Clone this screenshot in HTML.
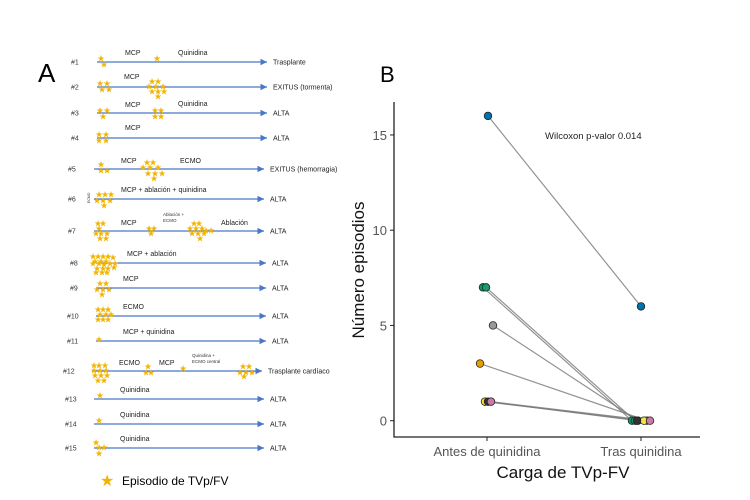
<!DOCTYPE html>
<html><head><meta charset="utf-8"><style>
html,body{margin:0;padding:0;background:#fff}
svg{display:block;font-family:"Liberation Sans",sans-serif}
</style></head><body>
<svg width="750" height="500" viewBox="0 0 750 500">
<defs><marker id="ah" markerWidth="6" markerHeight="6" refX="5" refY="3" orient="auto"><path d="M0,0.5 L5,3 L0,5.5 Z" fill="#4a78c8"/></marker></defs>
<text x="38" y="82" font-size="26">A</text>
<g id="timeline"></g>
<text x="100" y="486" font-size="16" fill="#f2b400">★</text>
<text x="122" y="485" font-size="12">Episodio de TVp/FV</text>
<text x="380" y="82" font-size="22">B</text>
<g id="chart"></g>
</svg>
<script>
const NS="http://www.w3.org/2000/svg";
function mk(tag,attrs,parent,txt){const e=document.createElementNS(NS,tag);for(const k in attrs)e.setAttribute(k,attrs[k]);if(txt!==undefined)e.textContent=txt;parent.appendChild(e);return e;}
// ---- Panel A timeline ----
const rowIds=["#1","#2","#3","#4","#5","#6","#7","#8","#9","#10","#11","#12","#13","#14","#15"];
const rowY=[62,87,113,138,169,199,231,263,288,316,341,371,399,424,448];
const rowX0=[97,97,97,97,94,94,94,96,96,96,96,92,94,94,94];
const rowEnd=["Trasplante","EXITUS (tormenta)","ALTA","ALTA","EXITUS (hemorragia)","ALTA","ALTA","ALTA","ALTA","ALTA","ALTA","Trasplante cardíaco","ALTA","ALTA","ALTA"];
const rowLabels=[
 [["MCP",125,-7],["Quinidina",178,-7]],
 [["MCP",124,-8]],
 [["MCP",125,-6],["Quinidina",178,-7]],
 [["MCP",125,-8]],
 [["MCP",121,-6],["ECMO",180,-6]],
 [["MCP + ablación + quinidina",121,-7]],
 [["MCP",121,-6],["Ablación",221,-6]],
 [["MCP + ablación",127,-7]],
 [["MCP",123,-7]],
 [["ECMO",123,-7]],
 [["MCP + quinidina",123,-7]],
 [["ECMO",119,-6],["MCP",159,-6]],
 [["Quinidina",120,-7]],[["Quinidina",120,-7]],[["Quinidina",120,-7]]];
const rowStars=[
 [[101,-4],[104,2],[157,-4]],
 [[100,-4],[107,-4],[102,2],[109,2],[152,-6],[158,-6],[149,-1],[156,-1],[163,-1],[152,4],[158,4],[164,4],[158,9]],
 [[100,-3],[107,-3],[103,3],[155,-3],[161,-3],[155,3],[161,3]],
 [[99,-4],[106,-4],[99,2],[106,2]],
 [[101,-5],[101,1],[107,1],[147,-7],[153,-7],[143,-2],[150,-2],[158,-2],[148,4],[155,4],[162,4],[154,9]],
 [[99,-5],[105,-5],[111,-5],[97,1],[103,1],[110,1],[104,6]],
 [[98,-8],[103,-8],[99,-3],[96,2],[101,2],[107,2],[100,7],[106,7],[149,-3],[154,-3],[151,2],[194,-8],[199,-8],[190,-3],[196,-3],[202,-3],[206,-1],[211,-1],[192,2],[198,2],[204,2],[200,7]],
 [[93,-7],[98,-7],[103,-7],[108,-7],[113,-6],[95,-2],[101,-2],[106,-2],[93,0],[99,0],[104,1],[110,0],[115,0],[97,5],[103,5],[108,5],[114,4],[96,9],[102,9],[107,9]],
 [[100,-5],[106,-5],[97,1],[103,1],[109,1],[102,6]],
 [[98,-7],[103,-7],[108,-7],[100,-2],[106,-2],[111,-2],[98,3],[103,3],[108,3]],
 [[99,-2]],
 [[94,-6],[99,-6],[105,-6],[94,-1],[100,-1],[106,-1],[95,4],[101,4],[107,4],[98,9],[104,9],[148,-5],[146,1],[151,1],[183,-3],[243,-5],[249,-5],[240,1],[246,1],[252,1],[244,5]],
 [[100,-4]],[[99,-4]],[[96,-6],[99,-1],[104,-1],[99,5]]];
const tl=document.getElementById('timeline');
rowIds.forEach((id,i)=>{
  const y=rowY[i];
  const g=mk('g',{},tl);
  
  
  const lb=mk('text',{x:rowX0[i]-26+(i>=9?-3:0),y:y+2.5,'font-size':7,fill:'#333'},g,id);
  
  
  const ln=mk('line',{x1:rowX0[i],x2:rowX0[i]+170,y1:y,y2:y,stroke:'#4a78c8','stroke-width':1.3,'marker-end':'url(#ah)'},g);
  
  
  const et=mk('text',{x:rowX0[i]+176,y:y+2.5,'font-size':7,fill:'#222'},g,rowEnd[i]);
  
  
  rowLabels[i].forEach(l=>{const t=mk('text',{x:l[1],y:y+l[2],'font-size':7,fill:'#222'},g,l[0]);
    
    });
  rowStars[i].forEach(s=>{const t=mk('text',{x:s[0]-4,y:y+s[1]+3.5,'font-size':9,fill:'#f2b400'},g,'★');
    
    });
});
[["Ablación +",163,216],["ECMO",163,222],["Quinidina +",192,357],["ECMO central",192,363]].forEach(s=>{
  const t=mk('text',{x:s[1],y:s[2],'font-size':4.5,fill:'#333'},tl,s[0]);
  
  });
const ec=mk('text',{x:0,y:0,'font-size':3.5,fill:'#333',transform:'translate(90,203) rotate(-90)'},tl,'ECMO');



// ---- Panel B chart ----
const categories=["Antes de quinidina","Tras quinidina"];
const beforeVals=[16,7,7,5,3,1,1,1];
const afterVals=[6,0,0,0,0,0,0,0];
const pointColors=["#0072B2","#009E73","#1a9a70","#999999","#E69F00","#F0E442","#333333","#CC79A7"];
const jitterB=[1,-4,-1,6,-7,-2,1,4];
const jitterA=[0,-9,-6,-3,6,3,-4,9];
const yTicks=[0,5,10,15];
const ch=document.getElementById('chart');
const X0=394,X1=700,YT=102,YB=437;
const yS=v=>420.7-v*19.05;
const xS=i=>[487,641][i];
const ax=mk('path',{d:`M${X0},${YT} L${X0},${YB} L${X1},${YB}`,fill:'none',stroke:'#222','stroke-width':1.3},ch);


yTicks.forEach(v=>{
  const tk=mk('line',{x1:X0-4,x2:X0,y1:yS(v),y2:yS(v),stroke:'#222','stroke-width':1},ch);
  
  
  const t=mk('text',{x:X0-7,y:yS(v)+5,'font-size':13,fill:'#555','text-anchor':'end'},ch,v);
  
  });
categories.forEach((c,i)=>{
  const tk=mk('line',{x1:xS(i),x2:xS(i),y1:YB,y2:YB+4,stroke:'#222','stroke-width':1},ch);
  
  
  const t=mk('text',{x:xS(i),y:456,'font-size':13,fill:'#555','text-anchor':'middle'},ch,c);
  
  });
beforeVals.forEach((b,i)=>{
  const l=mk('line',{x1:xS(0)+jitterB[i],y1:yS(b),x2:xS(1)+jitterA[i],y2:yS(afterVals[i]),stroke:'#777','stroke-width':1.2,opacity:0.8},ch);
  
  });
beforeVals.forEach((b,i)=>{
  const p=mk('circle',{cx:xS(0)+jitterB[i],cy:yS(b),r:3.8,fill:pointColors[i],stroke:'#222','stroke-width':0.8},ch);
  
  
  const q=mk('circle',{cx:xS(1)+jitterA[i],cy:yS(afterVals[i]),r:3.8,fill:pointColors[i],stroke:'#222','stroke-width':0.8},ch);
  
  });
const wt=mk('text',{x:545,y:139,'font-size':9.5,fill:'#222'},ch,'Wilcoxon p-valor 0.014');


const yt=mk('text',{x:0,y:0,'font-size':17,fill:'#111','text-anchor':'middle',transform:'translate(364,270) rotate(-90)'},ch,'Número episodios');


const xt=mk('text',{x:563,y:478,'font-size':17,fill:'#111','text-anchor':'middle'},ch,'Carga de TVp-FV');


</script>
</body></html>
